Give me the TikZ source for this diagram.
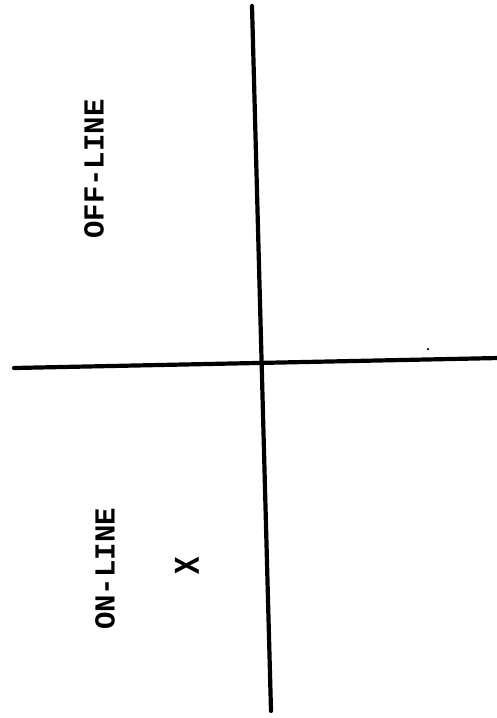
\documentclass[tikz,border=0pt]{standalone}
\usepackage{fontspec}
\newfontfamily\typefont{Liberation Mono}
\tikzset{
  axis/.style={line width=4.2pt, line cap=round, black},
  lbl/.style={font=\typefont\bfseries\fontsize{29}{29}\selectfont, inner sep=0pt, rotate=90},
  speck/.style={circle, fill=black, inner sep=0pt, minimum size=2.5pt}
}
\begin{document}
\begin{tikzpicture}[x=1pt,y=-1pt]
\useasboundingbox (0,0) rectangle (497,718);
\coordinate (vtop) at (252,6);
\coordinate (vbot) at (271,711);
\coordinate (hleft) at (14,368);
\coordinate (hright) at (499,358);
\draw[axis] (vtop) -- (vbot);
\draw[axis] (hleft) -- (hright);
\node[lbl] (off) at (94,169) {OFF-LINE};
\node[lbl] (on) at (105,569) {ON-LINE};
\node[lbl] (x) at (187,566) {\scalebox{1}[1.25]{X}};
\node[speck] (dot) at (428,349) {};
\end{tikzpicture}
\end{document}
